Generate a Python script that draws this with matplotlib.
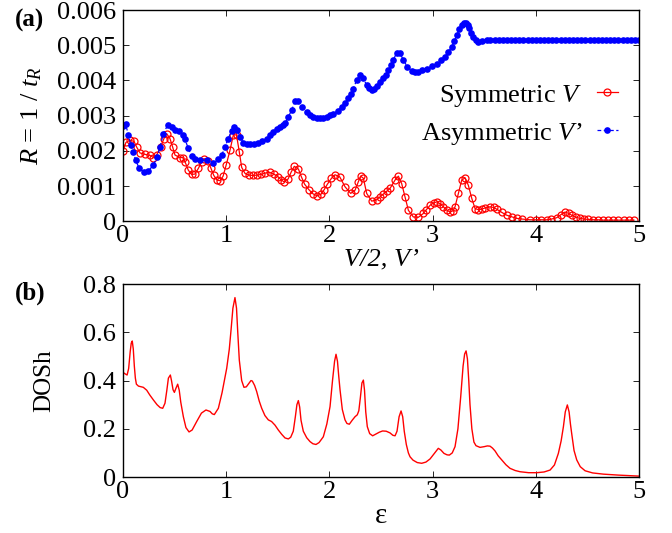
import matplotlib
matplotlib.use("Agg")
import matplotlib.pyplot as plt
from matplotlib.ticker import FuncFormatter

plt.rcParams['font.family'] = ['Liberation Serif', 'DejaVu Serif']
plt.rcParams['mathtext.fontset'] = 'custom'
plt.rcParams['mathtext.rm'] = 'Liberation Serif'
plt.rcParams['mathtext.it'] = 'Liberation Serif:italic'

# (a) relaxation rate, symmetric V (red open circles)
sym_x = [0.0, 0.029, 0.068, 0.107, 0.132, 0.165, 0.213, 0.262, 0.294, 0.326,
         0.365, 0.397, 0.423, 0.455, 0.481, 0.504, 0.552, 0.578, 0.601, 0.633,
         0.665, 0.698, 0.73, 0.762, 0.785, 0.82, 0.85, 0.88, 0.91, 0.94,
         0.97, 1.0, 1.037, 1.07, 1.10, 1.127, 1.15, 1.182, 1.22, 1.26,
         1.30, 1.34, 1.38, 1.42, 1.46, 1.50, 1.53, 1.56, 1.60, 1.63,
         1.66, 1.70, 1.73, 1.76, 1.80, 1.84, 1.88, 1.92, 1.95, 1.98,
         2.02, 2.054, 2.10, 2.151, 2.206, 2.248, 2.28, 2.303, 2.329, 2.361,
         2.41, 2.458, 2.49, 2.522, 2.555, 2.587, 2.636, 2.668, 2.70, 2.733,
         2.765, 2.813, 2.861, 2.91, 2.94, 2.975, 3.01, 3.04, 3.07, 3.104,
         3.135, 3.169, 3.20, 3.217, 3.249, 3.282, 3.314, 3.346, 3.379, 3.411,
         3.44, 3.475, 3.51, 3.556, 3.59, 3.621, 3.67, 3.718, 3.77, 3.815,
         3.87, 3.944, 4.0, 4.05, 4.106, 4.15, 4.203, 4.24, 4.283, 4.32,
         4.347, 4.39, 4.428, 4.47, 4.51, 4.557, 4.60, 4.65, 4.70, 4.75,
         4.80, 4.85, 4.90, 4.95]
sym_y = [0.00199, 0.00224, 0.00230, 0.00227, 0.00211, 0.00194, 0.00190, 0.00187, 0.00181, 0.00188,
         0.00211, 0.00235, 0.00249, 0.00235, 0.00211, 0.00188, 0.00181, 0.00181, 0.00169, 0.00145,
         0.00133, 0.00134, 0.00150, 0.00168, 0.00178, 0.00172, 0.00152, 0.00130, 0.00117, 0.00115,
         0.00128, 0.00160, 0.00202, 0.00246, 0.00245, 0.00197, 0.00153, 0.00136, 0.00131, 0.00130,
         0.00131, 0.00133, 0.00137, 0.00139, 0.00134, 0.00127, 0.00118, 0.00112, 0.00120, 0.00140,
         0.00156, 0.00148, 0.00125, 0.00105, 0.00090, 0.00078, 0.00072, 0.00077, 0.00090, 0.00105,
         0.00122, 0.00132, 0.00126, 0.00098, 0.00079, 0.00088, 0.00112, 0.00128, 0.00122, 0.00079,
         0.00057, 0.00061, 0.00069, 0.00077, 0.00085, 0.00093, 0.00117, 0.00128, 0.00107, 0.00069,
         0.00031, 0.00012, 0.00011, 0.00022, 0.00033, 0.00045, 0.00052, 0.00055, 0.00050, 0.00041,
         0.00032, 0.00026, 0.00030, 0.00041, 0.00079, 0.00117, 0.00123, 0.00102, 0.00065, 0.00036,
         0.00033, 0.00034, 0.00038, 0.00041, 0.00039, 0.00034, 0.00025, 0.00017, 0.00012, 0.00008,
         0.00006, 0.00004, 0.00004, 0.00004, 0.00004, 0.00006, 0.00010, 0.00018, 0.00026, 0.00022,
         0.00017, 0.00011, 0.00008, 0.00006, 0.00005, 0.00004, 0.00004, 0.00003, 0.00003, 0.00003,
         0.00003, 0.00003, 0.00003, 0.00003]

# (a) relaxation rate, asymmetric V' (blue dots)
asym_x = [0.0, 0.026, 0.052, 0.078, 0.10, 0.123, 0.158, 0.203, 0.245, 0.294,
          0.333, 0.359, 0.391, 0.433, 0.471, 0.504, 0.543, 0.578, 0.60, 0.633,
          0.665, 0.698, 0.746, 0.81, 0.875, 0.924, 0.956, 0.988, 1.02, 1.053,
          1.079, 1.108, 1.134, 1.166, 1.20, 1.231, 1.27, 1.312, 1.35, 1.392,
          1.425, 1.457, 1.49, 1.521, 1.55, 1.57, 1.602, 1.635, 1.667, 1.693,
          1.731, 1.78, 1.81, 1.844, 1.875, 1.909, 1.94, 1.974, 2.005, 2.038,
          2.08, 2.119, 2.15, 2.184, 2.21, 2.232, 2.264, 2.297, 2.329, 2.361,
          2.385, 2.41, 2.435, 2.458, 2.49, 2.522, 2.547, 2.571, 2.595, 2.619,
          2.652, 2.684, 2.716, 2.755, 2.797, 2.83, 2.861, 2.90, 2.943, 2.99,
          3.04, 3.08, 3.12, 3.15, 3.185, 3.21, 3.233, 3.26, 3.282, 3.30,
          3.324, 3.34, 3.356, 3.375, 3.395, 3.42, 3.443, 3.48, 3.524, 3.56,
          3.60, 3.64, 3.68, 3.72, 3.76, 3.80, 3.84, 3.88, 3.92, 3.96,
          4.00, 4.04, 4.08, 4.12, 4.16, 4.20, 4.24, 4.28, 4.32, 4.36,
          4.40, 4.44, 4.48, 4.52, 4.56, 4.60, 4.64, 4.68, 4.72, 4.76,
          4.80, 4.84, 4.88, 4.92, 4.96, 5.0]
asym_y = [0.00270, 0.00276, 0.00245, 0.00216, 0.00197, 0.00173, 0.00150, 0.00140, 0.00143, 0.00159,
          0.00183, 0.00211, 0.00249, 0.00273, 0.00268, 0.00260, 0.00257, 0.00245, 0.00233, 0.00207,
          0.00185, 0.00176, 0.00173, 0.00173, 0.00165, 0.00177, 0.00187, 0.00211, 0.00235, 0.00257,
          0.00268, 0.00259, 0.00240, 0.00223, 0.00220, 0.00219, 0.00220, 0.00223, 0.00228, 0.00235,
          0.00244, 0.00254, 0.00261, 0.00268, 0.00273, 0.00278, 0.00297, 0.00316, 0.00342, 0.00342,
          0.00326, 0.00309, 0.00301, 0.00297, 0.00294, 0.00293, 0.00294, 0.00297, 0.00301, 0.00305,
          0.00314, 0.00325, 0.00336, 0.00349, 0.00362, 0.00377, 0.00401, 0.00415, 0.00406, 0.00387,
          0.00378, 0.00374, 0.00377, 0.00384, 0.00395, 0.00406, 0.00416, 0.00429, 0.00443, 0.00458,
          0.00479, 0.00478, 0.00458, 0.00439, 0.00427, 0.00425, 0.00425, 0.00429, 0.00434, 0.00440,
          0.00448, 0.00457, 0.00467, 0.00480, 0.00496, 0.00511, 0.00529, 0.00545, 0.00557, 0.00562,
          0.00564, 0.00558, 0.00548, 0.00536, 0.00524, 0.00514, 0.00510, 0.00513, 0.00515, 0.00515,
          0.00515, 0.00515, 0.00515, 0.00515, 0.00515, 0.00515, 0.00515, 0.00515, 0.00515, 0.00515,
          0.00515, 0.00515, 0.00515, 0.00515, 0.00515, 0.00515, 0.00515, 0.00515, 0.00515, 0.00515,
          0.00515, 0.00515, 0.00515, 0.00515, 0.00515, 0.00515, 0.00515, 0.00515, 0.00515, 0.00515,
          0.00515, 0.00515, 0.00515, 0.00515, 0.00515, 0.00515]

# (b) density of states
eps = [0.0, 0.02, 0.04, 0.055, 0.07, 0.08, 0.09, 0.10, 0.11, 0.12,
       0.13, 0.15, 0.197, 0.23, 0.26, 0.294, 0.33, 0.36, 0.385, 0.407,
       0.425, 0.44, 0.459, 0.47, 0.485, 0.498, 0.515, 0.53, 0.545, 0.56,
       0.585, 0.61, 0.64, 0.67, 0.714, 0.76, 0.804, 0.843, 0.865, 0.885,
       0.924, 0.96, 1.005, 1.03, 1.047, 1.065, 1.085, 1.10, 1.112, 1.127,
       1.15, 1.172, 1.195, 1.214, 1.24, 1.253, 1.275, 1.295, 1.32, 1.344,
       1.375, 1.408, 1.44, 1.473, 1.505, 1.538, 1.57, 1.602, 1.625, 1.65,
       1.67, 1.685, 1.699, 1.712, 1.725, 1.747, 1.78, 1.812, 1.84, 1.87,
       1.90, 1.941, 1.975, 2.006, 2.03, 2.05, 2.064, 2.078, 2.09, 2.103,
       2.125, 2.151, 2.17, 2.193, 2.22, 2.248, 2.27, 2.285, 2.30, 2.315,
       2.329, 2.34, 2.352, 2.367, 2.39, 2.419, 2.45, 2.484, 2.515, 2.55,
       2.587, 2.615, 2.636, 2.655, 2.675, 2.694, 2.71, 2.725, 2.745, 2.765,
       2.781, 2.81, 2.851, 2.894, 2.935, 2.975, 3.02, 3.055, 3.08, 3.11,
       3.14, 3.162, 3.19, 3.217, 3.245, 3.272, 3.295, 3.31, 3.324, 3.337,
       3.35, 3.362, 3.38, 3.40, 3.42, 3.459, 3.50, 3.53, 3.556, 3.58,
       3.605, 3.635, 3.669, 3.71, 3.75, 3.80, 3.847, 3.93, 4.009, 4.08,
       4.138, 4.18, 4.218, 4.245, 4.267, 4.285, 4.305, 4.322, 4.335, 4.347,
       4.37, 4.396, 4.43, 4.477, 4.55, 4.654, 4.80, 4.993]
dos = [0.434, 0.428, 0.423, 0.450, 0.520, 0.555, 0.564, 0.530, 0.460, 0.410,
       0.385, 0.377, 0.372, 0.360, 0.340, 0.320, 0.300, 0.288, 0.285, 0.306,
       0.360, 0.410, 0.423, 0.400, 0.362, 0.351, 0.370, 0.385, 0.360, 0.310,
       0.250, 0.205, 0.187, 0.195, 0.230, 0.265, 0.278, 0.272, 0.262, 0.259,
       0.285, 0.350, 0.451, 0.530, 0.610, 0.700, 0.744, 0.700, 0.600, 0.485,
       0.400, 0.372, 0.374, 0.385, 0.400, 0.398, 0.380, 0.355, 0.315, 0.285,
       0.255, 0.237, 0.230, 0.215, 0.195, 0.177, 0.162, 0.158, 0.165, 0.190,
       0.250, 0.300, 0.317, 0.290, 0.235, 0.190, 0.163, 0.147, 0.138, 0.135,
       0.143, 0.167, 0.220, 0.292, 0.400, 0.480, 0.509, 0.480, 0.420, 0.361,
       0.280, 0.237, 0.222, 0.219, 0.235, 0.250, 0.258, 0.275, 0.330, 0.390,
       0.402, 0.360, 0.270, 0.209, 0.180, 0.171, 0.178, 0.186, 0.191, 0.190,
       0.183, 0.173, 0.171, 0.190, 0.250, 0.274, 0.250, 0.190, 0.135, 0.100,
       0.084, 0.070, 0.060, 0.057, 0.062, 0.075, 0.100, 0.119, 0.112, 0.098,
       0.092, 0.091, 0.100, 0.126, 0.200, 0.333, 0.460, 0.510, 0.523, 0.490,
       0.400, 0.300, 0.200, 0.145, 0.130, 0.123, 0.126, 0.129, 0.128, 0.120,
       0.108, 0.088, 0.071, 0.051, 0.036, 0.027, 0.022, 0.018, 0.018, 0.021,
       0.029, 0.050, 0.098, 0.150, 0.209, 0.270, 0.299, 0.270, 0.220, 0.181,
       0.110, 0.071, 0.043, 0.026, 0.017, 0.012, 0.008, 0.004]

fs = 19

fig = plt.figure(figsize=(6.72, 5.33), dpi=100)
ax1 = fig.add_axes([0.183, 0.585, 0.768, 0.396])
ax2 = fig.add_axes([0.183, 0.105, 0.768, 0.362])

ax1.plot(sym_x, sym_y, color='red', lw=0.9, marker='o', ms=5, mfc='none',
         mew=0.9, label='Symmetric $V$')
ax1.plot(asym_x, asym_y, color='blue', lw=0.9, ls=(0, (3, 2)), marker='o', ms=4.8,
         mew=0, label='Asymmetric $V$\u2019')
ax1.set_xlim(0, 5)
ax1.set_ylim(0, 0.006)
ax1.set_yticks([0, 0.001, 0.002, 0.003, 0.004, 0.005, 0.006])
ax1.yaxis.set_major_formatter(FuncFormatter(lambda v, p: '0' if v == 0 else '%.3f' % v))
ax1.set_xlabel('V/2, V\u2019', fontstyle='italic', fontsize=fs, labelpad=1)
ax1.set_ylabel(r'$R$ = $\mathit{1}$ / $t_R$', fontsize=fs, labelpad=9)
leg = ax1.legend(loc='center right', bbox_to_anchor=(0.979, 0.505), frameon=False,
                 markerfirst=False, fontsize=fs, handlelength=0.8,
                 handletextpad=0.55, labelspacing=0.45, borderaxespad=0.0,
                 borderpad=0.4)

ax2.plot(eps, dos, color='red', lw=1.0)
ax2.set_xlim(0, 5)
ax2.set_ylim(0, 0.8)
ax2.set_yticks([0, 0.2, 0.4, 0.6, 0.8])
ax2.yaxis.set_major_formatter(FuncFormatter(lambda v, p: '0' if v == 0 else '%.1f' % v))
ax2.set_xlabel('\u03b5', fontsize=21, labelpad=0)
ax2.set_ylabel('DOSh', fontsize=18, labelpad=20)

for ax in (ax1, ax2):
    ax.set_xticks([0, 1, 2, 3, 4, 5])
    ax.tick_params(direction='in', top=True, right=True, labelsize=fs,
                   length=4, width=0.6)
    ax.tick_params(axis='x', pad=3)
    ax.tick_params(axis='y', pad=5)
    for s in ax.spines.values():
        s.set_linewidth(1.0)

fig.text(0.022, 0.961, '(a)', fontsize=18, fontweight='bold', va='center')
fig.text(0.022, 0.45, '(b)', fontsize=18, fontweight='bold', va='center')

fig.savefig('out.png', dpi=100)
